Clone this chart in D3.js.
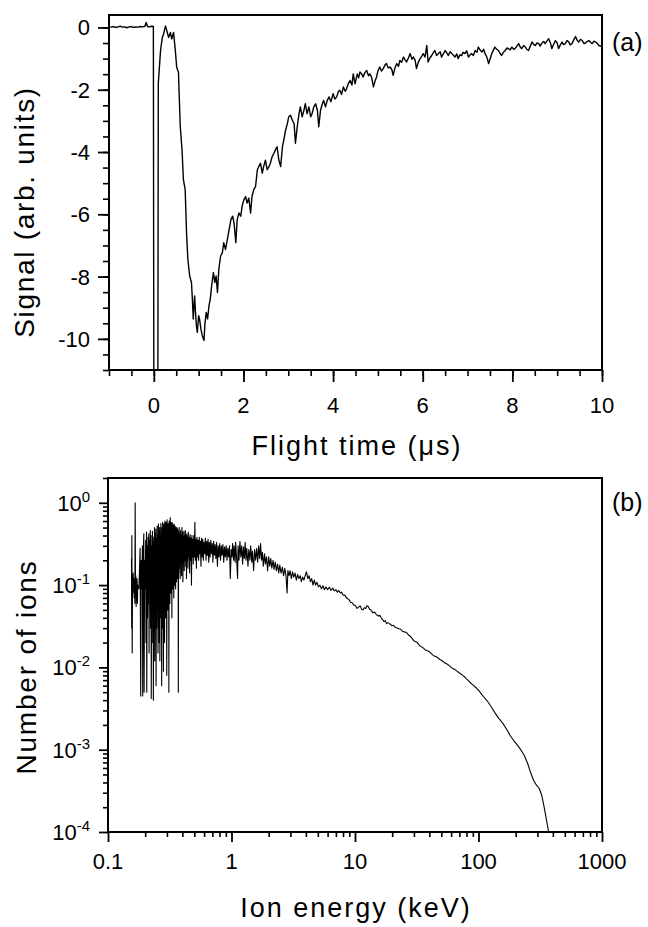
<!DOCTYPE html>
<html><head><meta charset="utf-8">
<script src="https://cdn.jsdelivr.net/npm/d3@7"></script>
<style>
body{margin:0;background:#fff}
svg{display:block}
text{font-family:"Liberation Sans",Arial,Helvetica,sans-serif;fill:#000}
</style></head><body>
<svg id="c" width="648" height="927"></svg>
<script>
// ---- Panel (a): signal vs flight time (µs) ----
const signalTrace = [
[-1.0,0.02],[-0.95,0.01],[-0.9,0.03],[-0.85,0.0],[-0.8,0.02],[-0.75,0.04],[-0.7,0.01],[-0.65,0.02],[-0.6,-0.01],[-0.55,0.02],
[-0.5,0.03],[-0.45,0.0],[-0.4,0.02],[-0.35,0.01],[-0.3,0.03],[-0.25,0.02],[-0.2,0.04],[-0.17,0.16],[-0.14,0.03],[-0.1,0.02],
[-0.05,0.04],[-0.01,0.03],[0.0,-11.6],[0.09,-11.6],[0.1,-1.8],[0.15,-0.74],[0.19,-0.32],[0.22,-0.2],[0.26,0.05],[0.29,-0.1],
[0.33,-0.32],[0.37,-0.16],[0.40,-0.37],[0.44,-0.16],[0.48,-0.74],[0.51,-1.28],[0.55,-1.44],[0.57,-2.34],[0.59,-3.19],[0.63,-3.94],
[0.66,-4.89],[0.70,-5.21],[0.73,-6.6],[0.76,-7.45],[0.80,-7.98],[0.84,-8.19],[0.86,-8.72],[0.88,-9.36],[0.91,-8.62],[0.93,-9.15],
[0.95,-9.57],[0.97,-9.79],[1.00,-9.26],[1.02,-9.36],[1.05,-9.68],[1.08,-9.89],[1.12,-10.05],[1.14,-9.52],[1.17,-9.15],[1.20,-9.36],
[1.23,-8.94],[1.26,-8.72],[1.29,-8.3],[1.33,-7.87],[1.36,-8.19],[1.39,-7.98],[1.42,-8.51],[1.45,-7.77],[1.49,-7.34],[1.53,-7.23],
[1.56,-6.91],[1.60,-7.13],[1.64,-6.81],[1.68,-6.49],[1.72,-6.17],[1.76,-6.06],[1.79,-6.28],[1.83,-6.91],[1.86,-6.17],[1.90,-5.96],
[1.94,-6.06],[1.97,-5.74],[2.01,-5.53],[2.05,-5.43],[2.08,-5.64],[2.12,-5.48],[2.16,-5.96],[2.19,-5.43],[2.23,-5.21],[2.27,-5.11],
[2.31,-4.57],[2.34,-4.47],[2.38,-4.36],[2.42,-4.68],[2.45,-4.47],[2.49,-4.26],[2.53,-4.57],[2.57,-4.47],[2.60,-4.36],[2.64,-4.15],
[2.68,-4.04],[2.71,-3.94],[2.75,-3.83],[2.79,-4.26],[2.83,-4.47],[2.87,-3.83],[2.90,-3.62],[2.94,-3.3],[2.98,-3.09],[3.01,-2.87],
[3.05,-2.82],[3.09,-2.98],[3.13,-3.09],[3.16,-3.72],[3.20,-3.19],[3.24,-2.77],[3.27,-2.55],[3.31,-2.87],[3.35,-2.66],[3.38,-2.45],
[3.42,-2.77],[3.46,-2.55],[3.50,-2.87],[3.53,-2.77],[3.57,-2.55],[3.61,-2.45],[3.65,-2.66],[3.68,-3.19],[3.72,-2.66],[3.76,-2.45],
[3.79,-2.34],[3.83,-2.55],[3.87,-2.34],[3.91,-2.23],[3.95,-2.39],[4.0,-2.13],[4.04,-2.3],[4.08,-2.23],[4.12,-2.05],[4.15,-2.02],
[4.19,-2.15],[4.23,-1.91],[4.27,-2.05],[4.30,-1.97],[4.34,-1.8],[4.38,-1.70],[4.42,-1.85],[4.45,-1.49],[4.49,-1.81],[4.54,-1.49],
[4.57,-1.62],[4.60,-1.43],[4.64,-1.5],[4.67,-1.59],[4.71,-1.45],[4.75,-1.38],[4.79,-1.55],[4.82,-1.49],[4.86,-1.6],[4.90,-1.91],
[4.94,-1.7],[4.97,-1.59],[5.0,-1.4],[5.04,-1.27],[5.08,-1.4],[5.12,-1.32],[5.16,-1.2],[5.19,-1.16],[5.23,-1.3],[5.27,-1.27],
[5.31,-1.35],[5.34,-1.54],[5.38,-1.3],[5.42,-1.16],[5.46,-1.25],[5.49,-1.06],[5.53,-1.12],[5.57,-0.95],[5.61,-1.05],[5.64,-1.11],
[5.68,-0.98],[5.72,-0.84],[5.76,-1.02],[5.79,-0.95],[5.83,-1.05],[5.86,-1.32],[5.90,-1.12],[5.94,-1.0],[5.98,-0.92],[6.01,-0.84],
[6.05,-0.95],[6.09,-0.58],[6.12,-1.11],[6.16,-0.98],[6.20,-0.9],[6.24,-0.8],[6.27,-0.74],[6.31,-0.9],[6.35,-0.84],[6.39,-0.78],
[6.42,-0.95],[6.46,-0.85],[6.50,-0.74],[6.54,-0.82],[6.57,-0.9],[6.61,-0.78],[6.65,-0.84],[6.69,-0.9],[6.72,-0.95],[6.76,-0.85],
[6.79,-1.0],[6.83,-0.88],[6.87,-0.9],[6.90,-0.8],[6.94,-0.84],[6.98,-0.75],[7.02,-0.95],[7.06,-0.88],[7.09,-0.84],[7.13,-0.9],
[7.17,-0.74],[7.21,-0.8],[7.24,-0.63],[7.28,-0.72],[7.32,-0.79],[7.36,-0.7],[7.39,-0.84],[7.43,-0.95],[7.47,-1.16],[7.51,-0.98],
[7.54,-0.84],[7.58,-0.72],[7.61,-0.63],[7.65,-0.7],[7.69,-0.74],[7.72,-0.82],[7.76,-0.9],[7.80,-0.8],[7.84,-0.74],[7.88,-0.66],
[7.91,-0.68],[7.95,-0.72],[7.99,-0.63],[8.03,-0.7],[8.06,-0.68],[8.10,-0.6],[8.14,-0.52],[8.18,-0.64],[8.21,-0.68],[8.25,-0.58],
[8.29,-0.63],[8.32,-0.7],[8.36,-0.74],[8.40,-0.6],[8.44,-0.47],[8.48,-0.55],[8.51,-0.58],[8.55,-0.5],[8.59,-0.52],[8.62,-0.6],
[8.66,-0.5],[8.70,-0.45],[8.73,-0.52],[8.77,-0.44],[8.81,-0.36],[8.85,-0.5],[8.88,-0.68],[8.92,-0.55],[8.96,-0.42],[9.0,-0.5],
[9.03,-0.68],[9.07,-0.56],[9.11,-0.47],[9.14,-0.55],[9.18,-0.52],[9.22,-0.42],[9.26,-0.47],[9.29,-0.56],[9.33,-0.52],[9.37,-0.4],
[9.41,-0.29],[9.44,-0.4],[9.48,-0.47],[9.52,-0.38],[9.56,-0.42],[9.60,-0.52],[9.63,-0.5],[9.67,-0.45],[9.71,-0.42],[9.75,-0.48],
[9.78,-0.52],[9.82,-0.44],[9.86,-0.47],[9.90,-0.52],[9.93,-0.58],[9.99,-0.61]
];
const timeTicks = [0, 2, 4, 6, 8, 10];
const signalTicks = [0, -2, -4, -6, -8, -10];

// ---- Panel (b): number of ions vs ion energy (keV) ----
const ionSpectrum = [
[0.155,0.21],[0.1555,0.03],[0.156,0.4],[0.157,0.015],[0.158,0.13],[0.159,0.08],[0.160,0.14],[0.161,0.09],[0.162,0.12],[0.163,0.07],
[0.164,0.11],[0.165,0.06],[0.166,1.0],[0.167,0.08],[0.168,0.13],[0.169,0.055],[0.170,0.11],[0.171,0.09],[0.172,0.12],[0.173,0.06],
[0.174,0.1],[0.178,0.09],[0.182,0.28],[0.184,0.0045],[0.186,0.2],[0.188,0.09],
[0.190,0.30],[0.191,0.0045],[0.193,0.25],[0.195,0.42],[0.196,0.005],[0.198,0.2],[0.200,0.09],[0.202,0.35],[0.203,0.02],[0.205,0.44],
[0.206,0.005],[0.208,0.3],[0.209,0.04],[0.211,0.38],[0.212,0.06],[0.214,0.42],[0.215,0.015],[0.217,0.35],[0.218,0.08],[0.220,0.46],
[0.221,0.03],[0.223,0.4],[0.224,0.0042],[0.226,0.3],[0.227,0.05],[0.229,0.45],[0.230,0.02],[0.232,0.38],[0.233,0.004],[0.235,0.33],
[0.236,0.06],[0.238,0.5],[0.239,0.012],[0.241,0.42],[0.242,0.07],[0.244,0.48],[0.245,0.006],[0.247,0.36],[0.248,0.03],[0.250,0.52],
[0.251,0.05],[0.253,0.4],[0.254,0.015],[0.256,0.55],[0.257,0.08],[0.259,0.45],[0.260,0.02],[0.262,0.5],[0.263,0.012],[0.265,0.38],
[0.266,0.06],[0.268,0.56],[0.269,0.04],[0.271,0.44],[0.272,0.006],[0.274,0.5],[0.275,0.1],[0.277,0.58],[0.278,0.03],[0.280,0.42],
[0.281,0.009],[0.283,0.55],[0.284,0.07],[0.286,0.47],[0.287,0.02],[0.289,0.6],[0.290,0.11],[0.292,0.5],[0.293,0.04],[0.295,0.58],
[0.296,0.09],[0.298,0.45],[0.299,0.008],[0.301,0.62],[0.302,0.12],[0.304,0.5],[0.305,0.05],[0.307,0.56],[0.308,0.14],[0.310,0.48],
[0.311,0.005],[0.313,0.6],[0.314,0.1],[0.316,0.52],[0.317,0.06],[0.319,0.66],[0.320,0.15],[0.322,0.5],[0.323,0.08],[0.325,0.57],
[0.326,0.13],[0.328,0.45],[0.329,0.04],[0.331,0.58],[0.332,0.12],[0.334,0.5],[0.335,0.09],[0.337,0.54],[0.338,0.16],[0.340,0.46],
[0.341,0.07],[0.343,0.55],[0.344,0.14],[0.346,0.48],[0.347,0.1],[0.349,0.52],[0.350,0.18],[0.352,0.45],[0.353,0.09],[0.355,0.5],
[0.356,0.15],[0.358,0.44],[0.359,0.11],[0.361,0.5],[0.362,0.17],[0.364,0.42],[0.365,0.12],[0.367,0.48],[0.368,0.18],[0.370,0.4],
[0.371,0.005],[0.373,0.45],[0.374,0.14],[0.377,0.5],[0.379,0.16],[0.382,0.42],[0.384,0.12],[0.387,0.46],[0.389,0.18],[0.392,0.4],
[0.394,0.13],[0.397,0.5],[0.399,0.2],[0.402,0.44],[0.404,0.11],[0.407,0.38],[0.409,0.19],[0.412,0.45],[0.414,0.15],[0.417,0.4],
[0.420,0.2],[0.423,0.46],[0.426,0.17],[0.429,0.4],[0.432,0.12],[0.435,0.42],[0.438,0.2],[0.441,0.38],[0.444,0.16],[0.447,0.44],
[0.450,0.22],[0.454,0.38],[0.458,0.14],[0.462,0.41],[0.466,0.2],[0.470,0.37],[0.474,0.1],[0.478,0.4],[0.482,0.22],[0.486,0.36],
[0.490,0.18],[0.495,0.4],[0.500,0.22],[0.505,0.58],[0.510,0.2],[0.515,0.36],[0.520,0.16],[0.525,0.38],[0.530,0.22],[0.536,0.35],
[0.542,0.2],[0.548,0.38],[0.554,0.24],[0.560,0.34],[0.566,0.17],[0.572,0.37],[0.578,0.22],[0.585,0.36],[0.592,0.2],[0.599,0.33],
[0.606,0.24],[0.614,0.37],[0.622,0.2],[0.630,0.34],[0.638,0.23],[0.646,0.36],[0.654,0.19],[0.662,0.33],[0.671,0.22],[0.680,0.35],
[0.689,0.24],[0.698,0.32],[0.707,0.19],[0.717,0.34],[0.727,0.23],[0.737,0.31],[0.747,0.21],[0.758,0.33],[0.769,0.17],[0.780,0.3],
[0.791,0.22],[0.803,0.32],[0.815,0.2],[0.827,0.3],[0.839,0.23],[0.852,0.31],[0.865,0.19],[0.878,0.29],[0.891,0.22],[0.905,0.3],
[0.919,0.2],[0.933,0.28],[0.948,0.22],[0.963,0.3],[0.978,0.12],[0.994,0.27],
[1.01,0.22],[1.02,0.32],[1.04,0.2],[1.05,0.3],[1.07,0.19],[1.08,0.33],[1.10,0.21],[1.12,0.12],[1.13,0.3],[1.15,0.2],
[1.17,0.34],[1.19,0.22],[1.21,0.3],[1.23,0.18],[1.25,0.29],[1.27,0.21],[1.29,0.33],[1.31,0.2],[1.33,0.28],[1.36,0.17],
[1.38,0.27],[1.41,0.2],[1.43,0.3],[1.46,0.19],[1.48,0.26],[1.51,0.15],[1.54,0.27],[1.57,0.2],[1.60,0.28],[1.63,0.19],
[1.66,0.3],[1.69,0.21],[1.72,0.32],[1.75,0.2],[1.78,0.25],[1.81,0.17],[1.85,0.24],[1.88,0.18],[1.92,0.22],[1.96,0.15],
[2.0,0.22],[2.04,0.17],[2.08,0.21],[2.12,0.16],[2.17,0.2],[2.21,0.155],[2.26,0.19],[2.31,0.15],[2.36,0.18],[2.41,0.14],
[2.46,0.175],[2.52,0.14],[2.58,0.165],[2.64,0.13],[2.70,0.16],[2.76,0.13],[2.82,0.08],[2.86,0.15],[2.92,0.13],[2.98,0.15],
[3.05,0.12],[3.12,0.145],[3.19,0.125],[3.27,0.14],[3.35,0.115],[3.43,0.135],[3.51,0.12],[3.6,0.13],[3.68,0.11],[3.77,0.125],
[3.86,0.115],[3.95,0.13],[4.05,0.145],[4.15,0.12],[4.25,0.13],[4.35,0.11],[4.46,0.12],[4.57,0.1],[4.68,0.115],[4.8,0.1],
[4.92,0.108],[5.05,0.095],[5.2,0.1],[5.35,0.09],[5.5,0.098],[5.65,0.088],[5.8,0.095],[6.0,0.088],[6.2,0.094],[6.4,0.086],
[6.6,0.092],[6.8,0.085],[7.0,0.088],[7.2,0.082],[7.4,0.086],[7.6,0.08],[7.8,0.082],[8.0,0.076],[8.3,0.075],[8.6,0.069],
[8.9,0.067],[9.2,0.062],[9.5,0.061],[9.8,0.057],
[10.1,0.056],[10.4,0.052],[10.7,0.054],[11.0,0.056],[11.3,0.051],[11.6,0.05],[11.9,0.053],[12.2,0.052],[12.5,0.056],[12.8,0.055],
[13.1,0.051],[13.4,0.05],[13.7,0.048],[14.0,0.046],[14.4,0.047],[14.7,0.045],[15.1,0.043],[15.5,0.042],[15.9,0.043],[16.3,0.04],
[16.7,0.038],[17.2,0.036],[17.6,0.037],[18.0,0.034],[18.5,0.035],[19.0,0.034],[19.5,0.033],[20.0,0.032],[20.5,0.0325],[21.0,0.031],
[21.5,0.0305],[22.0,0.03],[22.7,0.0295],[23.5,0.029],[24.2,0.0275],[25.0,0.027],[25.7,0.0268],[26.5,0.026],[27.2,0.0245],[28.0,0.024],
[29.0,0.0225],[30.0,0.021],[31.0,0.0205],[32.0,0.02],[33.0,0.0188],[34.0,0.018],[35.0,0.0176],[36.0,0.017],[37.0,0.0163],[38.0,0.016],
[39.5,0.0157],[41.0,0.015],[42.5,0.0142],[44.0,0.0137],[45.5,0.0135],[47.0,0.013],[48.5,0.0125],[50.0,0.0122],[52.0,0.0117],[54.0,0.0112],
[56.0,0.0109],[58.0,0.0105],[60.0,0.01],[62.0,0.0097],[64.5,0.0094],[67.0,0.009],[69.5,0.0086],[72.0,0.0083],[74.5,0.008],[77.0,0.0077],
[79.5,0.0073],[82.0,0.007],[85.0,0.0066],[88.0,0.0063],[91.5,0.006],[95.0,0.0057],[98.5,0.0054],[102,0.0051],[106,0.0047],[110,0.0044],
[118,0.0039],[127,0.0033],[136,0.0028],[146,0.0024],[157,0.0021],[168,0.0018],[180,0.0015],[192,0.0013],[205,0.00115],
[220,0.001],[235,0.00085],[250,0.00068],[265,0.00052],[280,0.00042],[295,0.00037],[310,0.00034],[325,0.00028],[340,0.0002],[355,0.00014],
[370,0.0001],[380,0.00008]
];
const energyTicks = [0.1, 1, 10, 100, 1000];
const energyTickLabels = ["0.1", "1", "10", "100", "1000"];
const countTicks = [1, 0.1, 0.01, 0.001, 0.0001];
const countTickExponents = ["0", "-1", "-2", "-3", "-4"];

const svg = d3.select("#c");
const TICKFONT = 22;

// ===== Panel (a) =====
const xA = d3.scaleLinear().domain([-1, 10]).range([109, 602]);
const yA = d3.scaleLinear().domain([-11, 0.4]).range([370, 15]);

const gA = svg.append("g");
gA.append("clipPath").attr("id","clipA").append("rect")
  .attr("x", xA(-1)).attr("y", yA(0.4)).attr("width", xA(10)-xA(-1)).attr("height", yA(-11)-yA(0.4));

gA.append("g").attr("transform",`translate(0,${yA(-11)})`)
  .call(d3.axisBottom(xA).tickValues(d3.range(-1, 10.01, 0.5)).tickSize(6).tickFormat(""))
  .call(g=>{g.select(".domain").remove(); g.selectAll("line").attr("stroke-width",1.6);});
gA.append("g").attr("transform",`translate(0,${yA(-11)})`)
  .call(d3.axisBottom(xA).tickValues(timeTicks).tickSize(12).tickFormat(""))
  .call(g=>{g.select(".domain").remove(); g.selectAll("line").attr("stroke-width",1.8);});
gA.append("g").attr("transform",`translate(${xA(-1)},0)`)
  .call(d3.axisLeft(yA).tickValues(d3.range(-11, 0.01, 0.5)).tickSize(6).tickFormat(""))
  .call(g=>{g.select(".domain").remove(); g.selectAll("line").attr("stroke-width",1.6);});
gA.append("g").attr("transform",`translate(${xA(-1)},0)`)
  .call(d3.axisLeft(yA).tickValues(signalTicks).tickSize(11).tickFormat(""))
  .call(g=>{g.select(".domain").remove(); g.selectAll("line").attr("stroke-width",1.8);});

gA.selectAll(".xl").data(timeTicks).join("text")
  .attr("x", d=>xA(d)).attr("y", 413).attr("text-anchor","middle")
  .attr("font-size", TICKFONT).text(d=>d);
gA.selectAll(".yl").data(signalTicks).join("text")
  .attr("x", 90).attr("y", d=>yA(d)+8).attr("text-anchor","end")
  .attr("font-size", TICKFONT).text(d=>d);

gA.append("path").datum(signalTrace)
  .attr("clip-path","url(#clipA)")
  .attr("fill","none").attr("stroke","#000").attr("stroke-width",1.4).attr("stroke-linejoin","round")
  .attr("d", d3.line().x(d=>xA(d[0])).y(d=>yA(d[1])));

gA.append("rect").attr("x", xA(-1)).attr("y", yA(0.4))
  .attr("width", xA(10)-xA(-1)).attr("height", yA(-11)-yA(0.4))
  .attr("fill","none").attr("stroke","#000").attr("stroke-width",2);

gA.append("text").attr("x", 612).attr("y", 51).attr("font-size", 25).text("(a)");
gA.append("text").attr("transform","translate(34,212) rotate(-90)")
  .attr("text-anchor","middle").attr("font-size", 28).attr("letter-spacing", 1.7)
  .text("Signal (arb. units)");
gA.append("text").attr("x", 357).attr("y", 455).attr("text-anchor","middle")
  .attr("font-size", 27).attr("letter-spacing", 2).text("Flight time (\u03bcs)");

// ===== Panel (b) =====
const xB = d3.scaleLog().domain([0.1, 1000]).range([108, 602]);
const yB = d3.scaleLog().domain([1e-4, 2]).range([832, 478]);

const gB = svg.append("g");
gB.append("clipPath").attr("id","clipB").append("rect")
  .attr("x", xB(0.1)).attr("y", yB(2)).attr("width", xB(1000)-xB(0.1)).attr("height", yB(1e-4)-yB(2));

const minorE = [], minorN = [];
for (const base of [0.1, 1, 10, 100]) for (let m = 2; m <= 9; m++) minorE.push(m*base);
for (const base of [1e-4, 1e-3, 1e-2, 1e-1, 1]) for (let m = 2; m <= 9; m++) { if (m*base <= 2) minorN.push(m*base); }

gB.append("g").attr("transform",`translate(0,${yB(1e-4)})`)
  .call(d3.axisBottom(xB).tickValues(minorE).tickSize(5).tickFormat(""))
  .call(g=>{g.select(".domain").remove(); g.selectAll("line").attr("stroke-width",1.6);});
gB.append("g").attr("transform",`translate(0,${yB(1e-4)})`)
  .call(d3.axisBottom(xB).tickValues(energyTicks).tickSize(10).tickFormat(""))
  .call(g=>{g.select(".domain").remove(); g.selectAll("line").attr("stroke-width",1.8);});
gB.append("g").attr("transform",`translate(${xB(0.1)},0)`)
  .call(d3.axisLeft(yB).tickValues(minorN).tickSize(5).tickFormat(""))
  .call(g=>{g.select(".domain").remove(); g.selectAll("line").attr("stroke-width",1.6);});
gB.append("g").attr("transform",`translate(${xB(0.1)},0)`)
  .call(d3.axisLeft(yB).tickValues(countTicks).tickSize(9).tickFormat(""))
  .call(g=>{g.select(".domain").remove(); g.selectAll("line").attr("stroke-width",1.8);});

gB.selectAll(".xl").data(energyTicks).join("text")
  .attr("x", d=>xB(d)).attr("y", 869).attr("text-anchor","middle")
  .attr("font-size", TICKFONT).text((d,i)=>energyTickLabels[i]);
const yl = gB.selectAll(".yl").data(countTicks).join("text")
  .attr("x", 90).attr("y", d=>yB(d)+8).attr("text-anchor","end")
  .attr("font-size", TICKFONT);
yl.append("tspan").text("10");
yl.append("tspan").attr("dy", -9).attr("font-size", 15).text((d,i)=>countTickExponents[i]);

gB.append("path").datum(ionSpectrum)
  .attr("clip-path","url(#clipB)")
  .attr("fill","none").attr("stroke","#000").attr("stroke-width",1.1).attr("stroke-linejoin","round")
  .attr("d", d3.line().x(d=>xB(d[0])).y(d=>yB(d[1])));

gB.append("rect").attr("x", xB(0.1)).attr("y", yB(2))
  .attr("width", xB(1000)-xB(0.1)).attr("height", yB(1e-4)-yB(2))
  .attr("fill","none").attr("stroke","#000").attr("stroke-width",2);

gB.append("text").attr("x", 612).attr("y", 511).attr("font-size", 25).text("(b)");
gB.append("text").attr("transform","translate(36,667) rotate(-90)")
  .attr("text-anchor","middle").attr("font-size", 28).attr("letter-spacing", 1.8)
  .text("Number of ions");
gB.append("text").attr("x", 356).attr("y", 917).attr("text-anchor","middle")
  .attr("font-size", 27).attr("letter-spacing", 2).text("Ion energy (keV)");
</script>
</body></html>
